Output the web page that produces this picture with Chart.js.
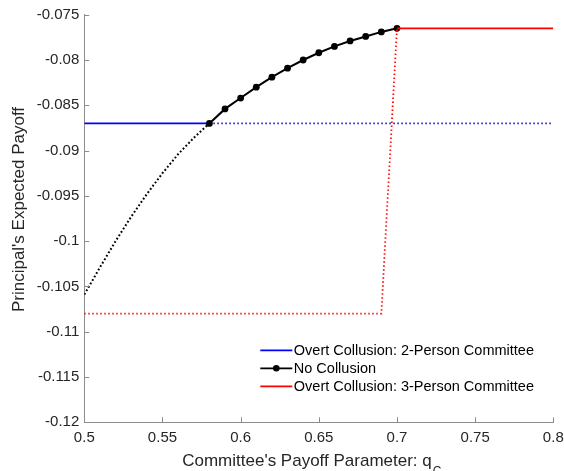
<!DOCTYPE html>
<html>
<head>
<meta charset="utf-8">
<script src="https://cdn.jsdelivr.net/npm/chart.js@4.4.1/dist/chart.umd.min.js"></script>
<style>
  html, body { margin: 0; padding: 0; background: #fff; }
  #wrap { width: 564px; height: 471px; }
</style>
</head>
<body>
<div id="wrap"><canvas id="chart" width="564" height="471"></canvas></div>
<script>
// values
const qNoCollusion = [0.50, 0.51, 0.52, 0.53, 0.54, 0.55, 0.56, 0.57, 0.58, 0.59, 0.60,
                      0.61, 0.62, 0.63, 0.64, 0.65, 0.66, 0.67, 0.68, 0.69, 0.70];
const payoffNoCollusion = [-0.1059, -0.1029, -0.1000, -0.0973, -0.0948, -0.0925, -0.0904, -0.0886, -0.0870,
                           -0.0854, -0.0842, -0.0830, -0.0819, -0.0809, -0.0800, -0.0792, -0.0785,
                           -0.0779, -0.0774, -0.0769, -0.0765];
const qTwoPerson = [0.50, 0.58, 0.80];
const payoffTwoPerson = [-0.087, -0.087, -0.087];
const qThreePerson = [0.50, 0.69, 0.70, 0.80];
const payoffThreePerson = [-0.108, -0.108, -0.0765, -0.0765];

const xTicks = [0.5, 0.55, 0.6, 0.65, 0.7, 0.75, 0.8];
const yTicks = [-0.12, -0.115, -0.11, -0.105, -0.1, -0.095, -0.09, -0.085, -0.08, -0.075];

const seriesLabels = [
  "Overt Collusion: 2-Person Committee",
  "No Collusion",
  "Overt Collusion: 3-Person Committee",
];
const xTitle = "Committee's Payoff Parameter: q";
const xTitleSub = "C";
const yTitle = "Principal's Expected Payoff";

// where each curve switches between dotted and solid
const twoPersonEnd = 0.58;
const noCollusionStart = 0.58;
const threePersonStart = 0.70;

const FONT = "'Liberation Sans', Helvetica, Arial, sans-serif";
const INK = "#262626";
const AXIS = "#8c8c8c";
const DOT = [1.4, 2.6];

const toXY = (xs, ys) => xs.map((x, i) => ({ x, y: ys[i] }));

// MATLAB style tick marks drawn inside the axes
const innerTicks = {
  id: "innerTicks",
  afterDraw(chart) {
    const { ctx, chartArea: a, scales: { x, y } } = chart;
    ctx.save();
    ctx.strokeStyle = AXIS;
    ctx.lineWidth = 1;
    ctx.beginPath();
    xTicks.forEach((v) => {
      const px = Math.round(x.getPixelForValue(v)) + 0.5;
      ctx.moveTo(px, a.bottom);
      ctx.lineTo(px, a.bottom - 5);
    });
    yTicks.forEach((v) => {
      const py = Math.round(y.getPixelForValue(v)) + 0.5;
      ctx.moveTo(a.left, py);
      ctx.lineTo(a.left + 5, py);
    });
    ctx.stroke();
    ctx.restore();
  },
};

// axis titles (x title carries a subscript C)
const axisTitles = {
  id: "axisTitles",
  afterDraw(chart) {
    const { ctx, chartArea: a } = chart;
    ctx.save();
    ctx.fillStyle = INK;
    ctx.textBaseline = "alphabetic";
    ctx.font = "17px " + FONT;
    const wMain = ctx.measureText(xTitle).width;
    ctx.font = "12px " + FONT;
    const wSub = ctx.measureText(xTitleSub).width;
    const x0 = (a.left + a.right) / 2 - (wMain + wSub + 1) / 2 - 7;
    ctx.font = "17px " + FONT;
    ctx.fillText(xTitle, x0, 466);
    ctx.font = "12px " + FONT;
    ctx.fillText(xTitleSub, x0 + wMain + 1, 475);

    ctx.font = "17px " + FONT;
    ctx.textAlign = "center";
    ctx.textBaseline = "middle";
    ctx.translate(19, (a.top + a.bottom) / 2 - 9);
    ctx.rotate(-Math.PI / 2);
    ctx.fillText(yTitle, 0, 0);
    ctx.restore();
  },
};

// legend without a box, lower right of the axes
const lineLegend = {
  id: "lineLegend",
  afterDraw(chart) {
    const { ctx, chartArea: a } = chart;
    const x0 = a.right - 293, y0 = a.bottom - 72, step = 18, len = 32;
    ctx.save();
    ctx.font = "14.5px " + FONT;
    ctx.textBaseline = "middle";
    chart.data.datasets.forEach((ds, i) => {
      const y = y0 + i * step;
      ctx.strokeStyle = ds.borderColor;
      ctx.lineWidth = 1.8;
      ctx.setLineDash([]);
      ctx.beginPath();
      ctx.moveTo(x0, y);
      ctx.lineTo(x0 + len, y);
      ctx.stroke();
      if (ds.legendMarker) {
        ctx.fillStyle = ds.borderColor;
        ctx.beginPath();
        ctx.arc(x0 + len / 2, y, 3.3, 0, Math.PI * 2);
        ctx.fill();
      }
      ctx.fillStyle = "#000";
      ctx.fillText(ds.label, x0 + len + 1.5, y + 0.5);
    });
    ctx.restore();
  },
};

new Chart(document.getElementById("chart"), {
  type: "line",
  data: {
    datasets: [
      {
        label: seriesLabels[0],
        data: toXY(qTwoPerson, payoffTwoPerson),
        borderColor: "#0000ff",
        borderWidth: 1.8,
        pointRadius: 0,
        segment: {
          borderDash: (c) => (c.p0.parsed.x >= twoPersonEnd ? DOT : undefined),
          borderColor: (c) => (c.p0.parsed.x >= twoPersonEnd ? "#0000c8" : undefined),
        },
        order: 3,
      },
      {
        label: seriesLabels[1],
        data: toXY(qNoCollusion, payoffNoCollusion),
        borderColor: "#000000",
        backgroundColor: "#000000",
        borderWidth: 2,
        pointRadius: (c) => (c.parsed && c.parsed.x >= noCollusionStart - 1e-9 ? 3.4 : 0),
        pointBorderWidth: 0,
        legendMarker: true,
        segment: {
          borderDash: (c) => (c.p1.parsed.x <= noCollusionStart + 1e-9 ? [1.8, 2.2] : undefined),
        },
        order: 2,
      },
      {
        label: seriesLabels[2],
        data: toXY(qThreePerson, payoffThreePerson),
        borderColor: "#ff0000",
        borderWidth: 1.8,
        pointRadius: 0,
        segment: {
          borderDash: (c) => (c.p1.parsed.x <= threePersonStart + 1e-9 ? DOT : undefined),
        },
        order: 1,
      },
    ],
  },
  options: {
    responsive: false,
    animation: false,
    events: [],
    layout: { padding: { left: 0, right: 10.7, top: 14.7, bottom: 0 } },
    plugins: { legend: { display: false }, tooltip: { enabled: false } },
    scales: {
      x: {
        type: "linear",
        min: 0.5,
        max: 0.8,
        afterBuildTicks: (s) => { s.ticks = xTicks.map((v) => ({ value: v })); },
        afterFit: (s) => { s.height = 48.7; s.paddingLeft = 0; s.paddingRight = 0; },
        grid: { display: false, drawTicks: false },
        border: { display: true, color: AXIS, width: 1 },
        ticks: {
          padding: 7,
          color: INK,
          font: { family: FONT, size: 15 },
          maxRotation: 0,
          callback: (v) => String(v),
        },
      },
      y: {
        type: "linear",
        min: -0.12,
        max: -0.075,
        afterBuildTicks: (s) => { s.ticks = yTicks.map((v) => ({ value: v })); },
        afterFit: (s) => { s.width = 84.3; },
        grid: { display: false, drawTicks: false },
        border: { display: true, color: AXIS, width: 1 },
        ticks: {
          padding: 5,
          color: INK,
          font: { family: FONT, size: 15 },
          callback: (v) => String(v),
        },
      },
    },
  },
  plugins: [innerTicks, axisTitles, lineLegend],
});
</script>
</body>
</html>
